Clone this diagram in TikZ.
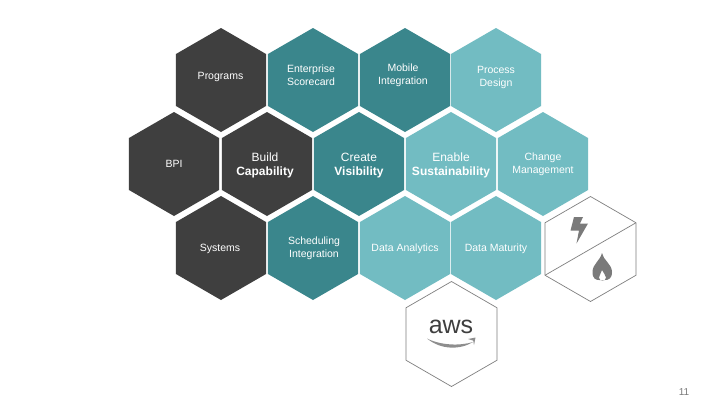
\documentclass[tikz,border=0pt]{standalone}
\usepackage{fontspec}
\setmainfont{Liberation Sans}
\usetikzlibrary{shapes.geometric}
\definecolor{hexdark}{HTML}{3F3F3F}
\definecolor{hexteal}{HTML}{3A868C}
\definecolor{hexlight}{HTML}{72BCC2}
\definecolor{hexline}{HTML}{7F7F7F}
\definecolor{icongray}{HTML}{7A7A7A}
\tikzset{
  hexbase/.style={regular polygon,regular polygon sides=6,shape border rotate=30,minimum size=104pt,inner sep=0pt,outer sep=0pt},
  hexd/.style={hexbase,fill=hexdark},
  hext/.style={hexbase,fill=hexteal},
  hexl/.style={hexbase,fill=hexlight},
  hexo/.style={hexbase,draw=hexline,line width=0.7pt,fill=white,minimum size=105pt},
  hextext/.style={align=center,text=white,inner sep=0pt,font=\fontsize{10.5}{13}\selectfont},
  bigtext/.style={align=center,text=white,inner sep=0pt,yshift=-1pt,font=\fontsize{12}{14}\selectfont},
  iconfill/.style={fill=icongray,draw=none},
}
\newcommand{\hexcell}[6]{% style, text style, name, x, y, text
  \node[#1] (#3) at (#4,#5) {};
  \node[#2] (#3-label) at (#3.center) {#6};
}
\begin{document}
\begin{tikzpicture}[x=1pt,y=-1pt]
\useasboundingbox (0,0) rectangle (720,405);
\fill[white] (0,0) rectangle (720,405);
% top row
\hexcell{hexd}{hextext,yshift=3pt,xshift=-0.5pt}{programs}{221}{80}{Programs}
\hexcell{hext}{hextext,yshift=5pt,xshift=-2pt}{score}{313}{80}{Enterprise\\Scorecard}
\hexcell{hext}{hextext,yshift=5pt,xshift=-2pt}{mobile}{405}{80}{Mobile\\Integration}
\hexcell{hexl}{hextext,yshift=2.5pt}{process}{496}{80}{Process\\Design}
% middle row
\hexcell{hexd}{hextext}{bpi}{174}{164}{BPI}
\hexcell{hexd}{bigtext,xshift=-2pt}{build}{267}{164}{Build\\\textbf{Capability}}
\hexcell{hext}{bigtext,yshift=-1pt}{create}{359}{164}{Create\\\textbf{Visibility}}
\hexcell{hexl}{bigtext}{enable}{451}{164}{Enable\\\textbf{Sustainability}}
\hexcell{hexl}{hextext}{change}{543}{164}{Change\\Management}
% bottom row
\hexcell{hexd}{hextext,yshift=-1pt,xshift=-1pt}{systems}{221}{248}{Systems}
\hexcell{hext}{hextext,xshift=1pt}{sched}{313}{248}{Scheduling\\Integration}
\hexcell{hexl}{hextext,yshift=-1pt}{analytics}{405}{248}{Data Analytics}
\hexcell{hexl}{hextext,yshift=-1pt}{maturity}{496}{248}{Data Maturity}
% outline hexagons
\node[hexo] (energy) at (590.5,249) {};
\draw[hexline,line width=0.7pt] (energy.210) -- (energy.30);
\node[hexo] (aws) at (451.5,334) {};
\node[text=hexdark,font=\fontsize{25}{25}\selectfont,inner sep=0pt] (awstext) at (451,327) {aws};
% amazon smile
\fill[icongray!85] (427,338.5) .. controls (441,350) and (460,350) .. (473,342)
  .. controls (460,346) and (441,345.5) .. (427,338.5) -- cycle;
\fill[icongray!85] (468,339) -- (475.5,337.5) -- (474,345) -- (473.2,340.6) -- cycle;
% bolt
\fill[iconfill] (574,217) -- (583,217) -- (580,223.5) -- (588,223.5) -- (576.5,243.5) -- (579,230.5) -- (570.5,230.5) -- cycle;
% flame
\fill[iconfill,even odd rule] (602,253)
  .. controls (603,260) and (612,264) .. (612,272)
  .. controls (612,279) and (608,280) .. (605,280)
  -- (599,280)
  .. controls (596,280) and (592.5,279) .. (592.5,272)
  .. controls (592.5,264) and (600,261) .. (602,253) -- cycle
  (602,270) .. controls (603,273) and (606,275) .. (606,277.5)
  .. controls (606,280) and (604,280.5) .. (602.5,280.5)
  .. controls (601,280.5) and (599,280) .. (599,277.5)
  .. controls (599,275) and (601.5,273) .. (602,270) -- cycle;
% page number
\node[text=icongray,font=\fontsize{10}{12}\selectfont,inner sep=0pt] (page) at (684,392) {11};
\end{tikzpicture}
\end{document}
